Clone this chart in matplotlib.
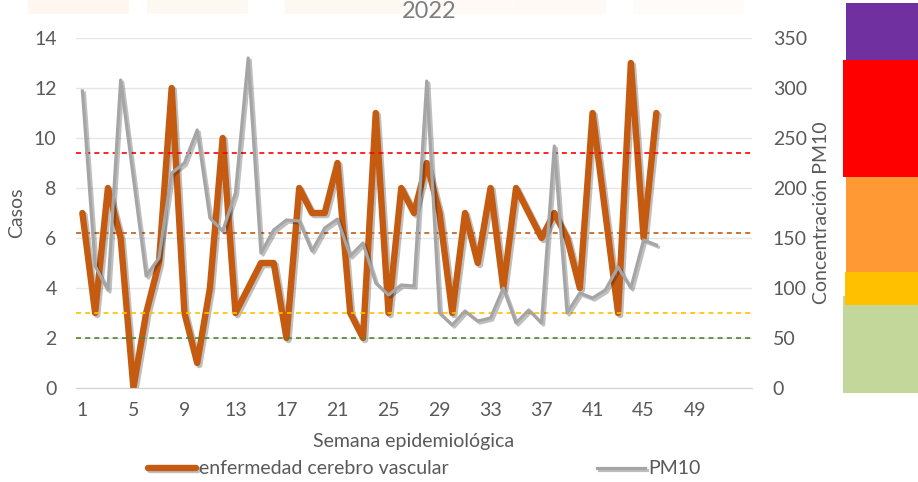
import matplotlib.pyplot as plt
import matplotlib.patheffects as pe
from matplotlib.patches import Rectangle

semanas = list(range(1, 47))
casos = [7, 3, 8, 6, 0, 3, 5, 12, 3, 1, 4, 10, 3, 4, 5, 5, 2, 8, 7, 7, 9, 3, 2,
         11, 3, 8, 7, 9, 7, 3, 7, 5, 8, 4, 8, 7, 6, 7, 6, 4, 11, 7, 3, 13, 6, 11]
pm10 = [297, 122, 98, 308, 210, 112, 130, 215, 225, 258, 170, 157, 195, 330, 135,
        158, 168, 167, 137, 160, 169, 132, 145, 105, 93, 103, 102, 307, 75, 63,
        77, 67, 70, 100, 65, 78, 65, 242, 75, 95, 90, 98, 121, 100, 148, 143]

# limites del indice de calidad del aire (PM10)
limites = [50, 75, 155, 235]
colores_limites = ['#548235', '#FFC000', '#C55A11', '#FF0000']

gris_txt = '#595959'
fs = 14
plt.rcParams['font.family'] = ['Lato', 'DejaVu Sans']

fig = plt.figure(figsize=(9.18, 4.82), dpi=100)

# franja difusa de fondo arriba
for x0, w, c in [(0.03, 0.11, '#FEF6EF'), (0.16, 0.11, '#FEF8F3'), (0.31, 0.14, '#FEF8F3'),
                 (0.47, 0.1, '#FFFAF6'), (0.56, 0.1, '#FEF9F4'), (0.69, 0.12, '#FFFBF8')]:
    fig.add_artist(Rectangle((x0, 1 - 14 / 482), w, 14 / 482, transform=fig.transFigure,
                             color=c, lw=0, zorder=0))

ax = fig.add_axes([76 / 918, (482 - 388) / 482, (752 - 76) / 918, 350 / 482])
ax2 = ax.twinx()

sombra = [pe.SimpleLineShadow(offset=(1.5, -1.5), shadow_color='k', alpha=0.25), pe.Normal()]

ax.plot(semanas, casos, color='#C55A11', lw=4.6, solid_joinstyle='round',
        solid_capstyle='round', path_effects=sombra, label='enfermedad cerebro vascular')
for v, c in zip(limites, colores_limites):
    ax2.axhline(v, color=c, lw=1.2, ls=(0, (3, 2.5)))
ax2.plot(semanas, pm10, color='#A5A5A5', lw=2.3, solid_joinstyle='round',
         path_effects=sombra, label='PM10')

ax.set_xlim(0.5, 53.5)
ax.set_ylim(0, 14)
ax2.set_ylim(0, 350)
ax.set_xticks(range(1, 50, 4))
ax.set_yticks(range(0, 15, 2))
ax2.set_yticks(range(0, 351, 50))
ax.grid(axis='y', color='#E6E6E6', lw=1)
ax.set_axisbelow(True)

for a in (ax, ax2):
    for s in a.spines.values():
        s.set_visible(False)
    a.tick_params(length=0, labelsize=fs, labelcolor=gris_txt)
ax.spines['bottom'].set_visible(True)
ax.spines['bottom'].set_color('#D0D0D0')
ax.tick_params(axis='y', pad=14)
ax.tick_params(axis='x', pad=10)
ax2.tick_params(axis='y', pad=15)

ax.set_ylabel('Casos', fontsize=fs, color=gris_txt, labelpad=6)
ax2.set_ylabel('Concentración PM10', fontsize=fs, color=gris_txt, labelpad=4)
ax.set_xlabel('Semana epidemiológica', fontsize=fs, color=gris_txt, labelpad=10)

fig.text(429 / 918, 1 - 11 / 482, '2022', fontsize=17, color='#7F7F7F', ha='center', va='center')

h1, l1 = ax.get_legend_handles_labels()
h2, l2 = ax2.get_legend_handles_labels()
fig.legend(h1 + h2, l1 + l2, loc='center', bbox_to_anchor=(424 / 918, 1 - 469 / 482), ncol=2,
           frameon=False, fontsize=fs, labelcolor=gris_txt, handlelength=2.5,
           handletextpad=0.15, columnspacing=7.6)

# bloques de color de la escala a la derecha
bloques = [(843, 296, 393, '#C4D79B'), (845, 272, 305, '#FFC000'), (846, 177, 272, '#FF9933'),
           (843, 60, 177, '#FF0000'), (846, 3, 60, '#7030A0')]
for x0, y0, y1, c in bloques:
    fig.add_artist(Rectangle((x0 / 918, 1 - y1 / 482), (918 - x0) / 918, (y1 - y0) / 482,
                             transform=fig.transFigure, color=c, lw=0))

fig.savefig('out.png', dpi=100)
